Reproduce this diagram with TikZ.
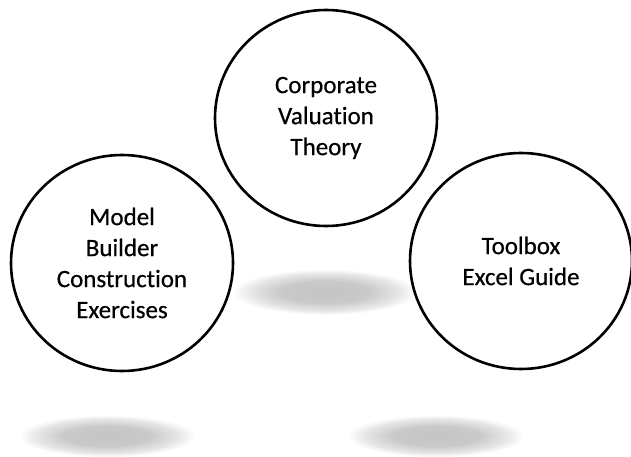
\documentclass[tikz,border=0pt]{standalone}
\usepackage{fontspec}
\setmainfont{Carlito}[Ligatures=NoCommon]
\newfontfamily\topicfont{Carlito}[Ligatures=NoCommon, FakeBold=0.5]
\usetikzlibrary{%
        shapes.geometric
    }
\pgfdeclareradialshading{softshadow}{\pgfpoint{0bp}{0bp}}{%
    color(0bp)=(black!23);
    color(12bp)=(black!21);
    color(20bp)=(black!10);
    color(25bp)=(white);
    color(50bp)=(white)}
\tikzset{%
    topic/.style={%
        ellipse,
        draw=black,
        line width=2.6pt,
        fill=white,
        text=black,
        minimum width=222pt,
        minimum height=216pt,
        align=center,
        font=\topicfont\fontsize{25}{31}\selectfont
    },
    groundshadow/.style={%
        shading=softshadow
    }
}

\begin{document}
\begin{tikzpicture}[x=1pt, y=-1pt]

    \useasboundingbox (0, 0) rectangle (631, 457);

    % Shadows
    \shade[groundshadow] (325, 292) ellipse (92 and 23);
    \shade[groundshadow] (107, 436) ellipse (88 and 21);
    \shade[groundshadow] (436, 436) ellipse (88 and 21);

    % Circles
    \node[topic] (corpval) at (326, 118)
        {Corporate\\Valuation\\Theory};
    \node[topic] (modelbuilder) at (122, 263)
        {Model\\Builder\\Construction\\Exercises};
    \node[topic] (toolbox) at (521, 261)
        {Toolbox\\Excel Guide};

\end{tikzpicture}
\end{document}
